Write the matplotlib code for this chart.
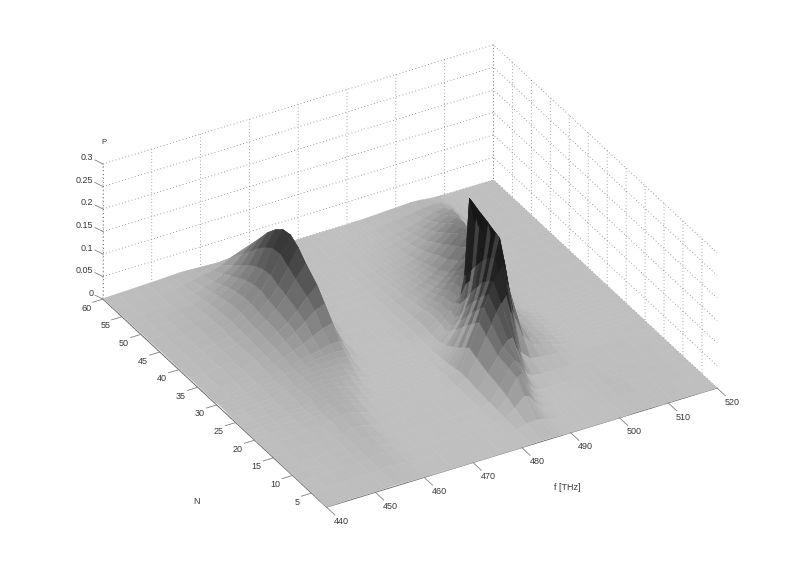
import numpy as np
import matplotlib
matplotlib.use('Agg')
import matplotlib.pyplot as plt
from mpl_toolkits.mplot3d import proj3d

plt.rcParams['font.family'] = ['Liberation Sans', 'DejaVu Sans']
plt.rcParams['grid.linestyle'] = (0, (1, 3))
plt.rcParams['grid.linewidth'] = 0.6
plt.rcParams['grid.color'] = '#808080'

# f [THz] columns, N rows, P
f_low = [440, 443, 446, 449, 452, 454, 456, 458, 460, 462, 464, 466, 468, 470, 472, 474, 476, 478]
f_high = [480, 482, 484, 486, 487, 488, 489, 490, 491, 492, 493, 495, 497, 499, 501, 503, 505, 507, 509, 511, 514, 517, 520]
n_rows = [1, 5, 8, 10, 12, 15, 18, 20, 21, 22, 23, 24, 25, 26, 27, 28, 29, 30, 31, 33, 35, 37, 40,
          42, 44, 46, 48, 50, 52, 54, 57, 60]

p_low = [
    [.000, .001, .002, .001, .002, .003, .002, .001, .001, 0, 0, 0, 0, 0, 0, 0, 0, 0],
    [.002, .001, .003, .004, .002, .005, .008, .005, .002, 0, 0, 0, 0, 0, 0, 0, 0, 0],
    [.002, .002, .003, .004, .004, .007, .010, .007, .003, 0, 0, 0, 0, 0, 0, 0, 0, 0],
    [.001, .004, .002, .006, .004, .009, .012, .008, .003, 0, 0, 0, 0, 0, 0, 0, 0, 0],
    [.002, .003, .004, .004, .007, .008, .012, .010, .005, .001, 0, 0, 0, 0, 0, 0, 0, 0],
    [.003, .002, .006, .003, .008, .006, .013, .012, .006, .001, 0, 0, 0, 0, 0, 0, 0, 0],
    [.002, .005, .003, .008, .006, .012, .016, .018, .012, .003, 0, 0, 0, 0, 0, 0, 0, 0],
    [.001, .003, .006, .005, .012, .010, .020, .020, .015, .008, .001, 0, 0, 0, 0, 0, 0, 0],
    [.002, .003, .006, .007, .012, .012, .020, .021, .017, .010, .002, 0, 0, 0, 0, 0, 0, 0],
    [.003, .004, .005, .009, .011, .016, .021, .022, .018, .012, .003, 0, 0, 0, 0, 0, 0, 0],
    [.003, .005, .004, .010, .010, .018, .021, .023, .019, .014, .006, 0, 0, 0, 0, 0, 0, 0],
    [.002, .005, .005, .010, .012, .018, .020, .023, .021, .016, .010, .001, 0, 0, 0, 0, 0, 0],
    [.002, .004, .007, .008, .014, .017, .020, .024, .022, .018, .014, .002, 0, 0, 0, 0, 0, 0],
    [.003, .003, .008, .007, .015, .016, .023, .025, .024, .021, .018, .006, 0, 0, 0, 0, 0, 0],
    [.004, .004, .008, .008, .016, .016, .024, .026, .026, .024, .023, .012, .001, 0, 0, 0, 0, 0],
    [.005, .005, .007, .010, .015, .017, .025, .027, .028, .027, .028, .020, .002, 0, 0, 0, 0, 0],
    [.005, .006, .006, .011, .013, .020, .024, .028, .030, .031, .032, .028, .003, 0, 0, 0, 0, 0],
    [.004, .007, .006, .012, .013, .021, .024, .030, .033, .035, .037, .036, .004, 0, 0, 0, 0, 0],
    [.003, .007, .006, .012, .014, .022, .025, .032, .037, .041, .047, .048, .010, 0, 0, 0, 0, 0],
    [.003, .006, .008, .010, .017, .020, .029, .036, .045, .055, .066, .072, .024, .001, 0, 0, 0, 0],
    [.004, .004, .010, .010, .019, .022, .032, .042, .056, .072, .090, .100, .040, .002, 0, 0, 0, 0],
    [.004, .005, .010, .011, .018, .025, .034, .046, .062, .082, .106, .125, .062, .008, 0, 0, 0, 0],
    [.003, .007, .008, .013, .017, .026, .036, .050, .068, .092, .122, .150, .085, .015, 0, 0, 0, 0],
    [.004, .006, .008, .012, .018, .026, .037, .052, .072, .098, .134, .170, .110, .030, .001, 0, 0, 0],
    [.004, .006, .009, .013, .020, .028, .040, .056, .078, .106, .146, .182, .130, .050, .003, 0, 0, 0],
    [.004, .006, .009, .013, .019, .027, .039, .055, .076, .103, .143, .178, .135, .058, .004, 0, 0, 0],
    [.003, .005, .008, .012, .017, .024, .036, .050, .070, .094, .130, .162, .122, .055, .005, 0, 0, 0],
    [.004, .005, .008, .011, .015, .021, .031, .043, .060, .081, .112, .140, .105, .045, .004, 0, 0, 0],
    [.003, .005, .006, .009, .012, .017, .025, .035, .048, .065, .090, .112, .085, .035, .003, 0, 0, 0],
    [.003, .004, .005, .007, .009, .013, .019, .026, .037, .049, .068, .085, .065, .025, .002, 0, 0, 0],
    [.002, .003, .004, .005, .007, .008, .012, .016, .020, .026, .036, .045, .035, .010, .001, 0, 0, 0],
    [.001, .002, .003, .004, .005, .006, .007, .006, .005, .004, .003, .005, .002, 0, 0, 0, 0, 0],
]
p_high = [
    [0, .001, .002, .002, .001, .001, 0, 0, 0, 0, 0, 0, 0, 0, 0, .001, .002, .001, 0, .001, .001, 0, 0],
    [0, .002, .008, .010, .008, .005, .002, .001, 0, 0, 0, 0, 0, 0, .001, .003, .004, .002, .001, .002, .001, .001, 0],
    [0, .004, .020, .040, .035, .020, .008, .003, .001, 0, 0, 0, 0, .001, .002, .004, .005, .003, .002, .003, .002, .001, 0],
    [0, .005, .030, .065, .070, .045, .022, .008, .003, .001, 0, 0, 0, .001, .002, .004, .005, .003, .002, .003, .002, .001, 0],
    [.001, .007, .036, .070, .085, .075, .050, .022, .008, .003, .001, .001, .002, .002, .003, .003, .003, .002, .002, .002, .001, .001, 0],
    [.001, .010, .042, .075, .090, .102, .105, .075, .035, .015, .008, .005, .005, .005, .003, .002, .002, .001, .002, .002, .001, .001, 0],
    [.002, .014, .052, .095, .118, .140, .158, .172, .130, .070, .035, .015, .012, .010, .006, .002, .001, 0, .001, .001, .001, 0, 0],
    [.002, .015, .060, .110, .140, .165, .190, .210, .220, .170, .110, .050, .024, .016, .010, .004, .001, 0, 0, .001, 0, 0, 0],
    [.002, .012, .052, .100, .130, .155, .185, .232, .272, .215, .150, .070, .030, .018, .012, .005, .001, 0, 0, 0, 0, 0, 0],
    [.001, .010, .044, .090, .116, .145, .175, .225, .275, .225, .158, .074, .032, .019, .012, .005, .001, 0, 0, 0, 0, 0, 0],
    [.001, .008, .038, .080, .106, .130, .165, .215, .278, .228, .160, .076, .034, .020, .013, .005, .001, 0, 0, 0, 0, 0, 0],
    [.001, .006, .030, .070, .092, .118, .150, .205, .282, .230, .164, .080, .036, .021, .013, .005, .001, 0, 0, 0, 0, 0, 0],
    [.001, .005, .024, .058, .078, .105, .135, .190, .285, .234, .168, .082, .038, .022, .014, .006, .001, 0, 0, 0, 0, 0, 0],
    [0, .004, .018, .047, .065, .090, .120, .175, .288, .236, .170, .084, .040, .023, .014, .006, .001, 0, 0, 0, 0, 0, 0],
    [0, .003, .014, .038, .052, .070, .100, .160, .291, .240, .174, .086, .042, .024, .015, .006, .001, 0, 0, 0, 0, 0, 0],
    [0, .002, .010, .028, .038, .055, .085, .145, .295, .242, .176, .088, .043, .025, .015, .006, .001, 0, 0, 0, 0, 0, 0],
    [0, .002, .008, .020, .030, .045, .070, .130, .298, .245, .180, .090, .044, .025, .015, .006, .001, 0, 0, 0, 0, 0, 0],
    [.001, .004, .010, .026, .035, .050, .065, .080, .100, .105, .100, .055, .030, .016, .008, .003, 0, 0, 0, 0, 0, 0, 0],
    [.002, .005, .012, .028, .035, .045, .056, .068, .080, .090, .100, .100, .070, .035, .012, .003, 0, 0, 0, 0, 0, 0, 0],
    [.002, .006, .014, .028, .035, .044, .054, .066, .080, .094, .105, .120, .095, .050, .015, .003, 0, 0, 0, 0, 0, 0, 0],
    [.002, .005, .011, .022, .028, .035, .043, .052, .062, .072, .083, .105, .118, .075, .025, .004, 0, 0, 0, 0, 0, 0, 0],
    [.001, .004, .009, .018, .023, .028, .034, .040, .047, .055, .064, .084, .105, .105, .050, .010, .001, 0, 0, 0, 0, 0, 0],
    [0, .003, .007, .013, .016, .020, .024, .029, .034, .040, .047, .064, .085, .100, .080, .025, .004, 0, 0, 0, 0, 0, 0],
    [0, .002, .006, .011, .014, .017, .020, .025, .029, .034, .040, .055, .074, .092, .090, .040, .008, .001, 0, 0, 0, 0, 0],
    [0, .001, .005, .008, .010, .013, .015, .019, .022, .026, .031, .043, .059, .076, .084, .062, .013, .002, 0, 0, 0, 0, 0],
    [0, .001, .003, .006, .008, .010, .012, .014, .017, .020, .024, .034, .047, .062, .076, .072, .022, .003, 0, 0, 0, 0, 0],
    [0, 0, .002, .004, .005, .007, .008, .010, .012, .014, .017, .025, .035, .047, .060, .066, .036, .006, 0, 0, 0, 0, 0],
    [0, 0, .001, .003, .004, .005, .006, .007, .009, .011, .013, .019, .027, .036, .046, .055, .050, .012, .001, 0, 0, 0, 0],
    [0, 0, .001, .002, .002, .003, .004, .005, .006, .007, .009, .013, .019, .026, .034, .042, .046, .022, .002, 0, 0, 0, 0],
    [0, 0, 0, .001, .001, .002, .002, .003, .004, .005, .006, .009, .013, .018, .024, .030, .034, .026, .004, .001, 0, 0, 0],
    [0, 0, 0, 0, .001, .001, .001, .002, .002, .002, .003, .005, .007, .010, .013, .016, .018, .016, .005, .001, 0, 0, 0],
    [0, 0, 0, 0, 0, 0, 0, 0, .001, .001, .001, .002, .003, .004, .005, .006, .005, .002, .001, 0, 0, 0, 0],
]

f_ticks = [440, 450, 460, 470, 480, 490, 500, 510, 520]
n_ticks = [5, 10, 15, 20, 25, 30, 35, 40, 45, 50, 55, 60]
p_ticks = [0, 0.05, 0.1, 0.15, 0.2, 0.25, 0.3]
p_ticklabels = ['0', '0.05', '0.1', '0.15', '0.2', '0.25', '0.3']
# rows of the narrow peak that show as lighter stripes
light_rows = [21, 23, 26]

f = np.array(f_low + f_high, dtype=float)
n = np.array(n_rows, dtype=float)
p = np.hstack([np.array(p_low), np.array(p_high)])
F, N = np.meshgrid(f, n)

# colour follows the height: light grey on the floor, nearly black on the tops
p_face = (p[:-1, :-1] + p[1:, :-1] + p[:-1, 1:] + p[1:, 1:]) / 4
grey = np.interp(p_face, [0, 0.183, 0.3], [0.75, 0.15, 0.06])
in_peak = (f[:-1] >= 484) & (f[:-1] < 491)
for r in light_rows:
    i = n_rows.index(r)
    grey[i, in_peak] += 0.14 * np.clip(p_face[i, in_peak] / 0.1, 0, 1)
colors = np.dstack([grey, grey, grey, np.ones_like(grey)])

fig = plt.figure(figsize=(7.89, 5.72), dpi=100, facecolor='white')
S = 700
ax = fig.add_axes([(410 - 0.5135 * S) / 789, ((572 - 276) - 0.5135 * S) / 572, S / 789, S / 572],
                  projection='3d', computed_zorder=False)
ax.set_proj_type('ortho')
ax.view_init(elev=32.2, azim=-119.8)
ax.set_box_aspect((1, 1, 0.355), zoom=0.91)
ax.patch.set_alpha(0)

ax.plot_surface(F, N, p, facecolors=colors, rstride=1, cstride=1, shade=False, linewidth=0.3, antialiased=True)

ax.set_xlim(440, 520)
ax.set_ylim(1, 60)
ax.set_zlim(0, 0.3)
ax.set_xticks(f_ticks)
ax.set_yticks(n_ticks)
ax.set_zticks(p_ticks)
ax.tick_params(label1On=False, label2On=False, color='#808080', width=0.6)

for axis in (ax.xaxis, ax.yaxis, ax.zaxis):
    axis.set_pane_color((1, 1, 1, 0))
    axis.pane.set_edgecolor('none')
    axis.line.set_color('#707070')
    axis.line.set_linewidth(0.7)
    axis._axinfo['tick']['inward_factor'] = 0
    axis._axinfo['tick']['outward_factor'] = 0
ax.zaxis.line.set_linestyle((0, (1, 3)))

# the ticks of the original lean differently from mplot3d's, drawn apart
tick = dict(color='#808080', lw=0.6)
for v in f_ticks:
    ax.plot([v, v], [1, -1.2], [0, 0], **tick)
for v in n_ticks:
    ax.plot([440, 437.9], [v, v], [0, 0], **tick)
for v in p_ticks:
    ax.plot([440, 439.43], [60, 61.37], [v, v], **tick)


def label3d(x, y, z, s, **kw):
    xp, yp, _ = proj3d.proj_transform(x, y, z, ax.get_proj())
    ax.text2D(xp, yp, s, transform=ax.transData, fontsize=6.5, color='#383838', va='center', **kw)


for v in f_ticks:
    label3d(v, -3, 0, str(v), ha='center')
for v in n_ticks:
    label3d(437.6, v, -0.012, str(v), ha='right')
for v, lab in zip(p_ticks, p_ticklabels):
    label3d(438, 60, v + 0.02, lab, ha='right')

fig.text(567 / 789, 1 - 488 / 572, 'f [THz]', fontsize=6.5, ha='center', va='center', color='#383838')
fig.text(197 / 789, 1 - 502 / 572, 'N', fontsize=6.5, ha='center', va='center', color='#383838')
fig.text(104 / 789, 1 - 143 / 572, 'P', fontsize=5.5, ha='center', va='center', color='#383838')

fig.savefig('out.png', dpi=100)
